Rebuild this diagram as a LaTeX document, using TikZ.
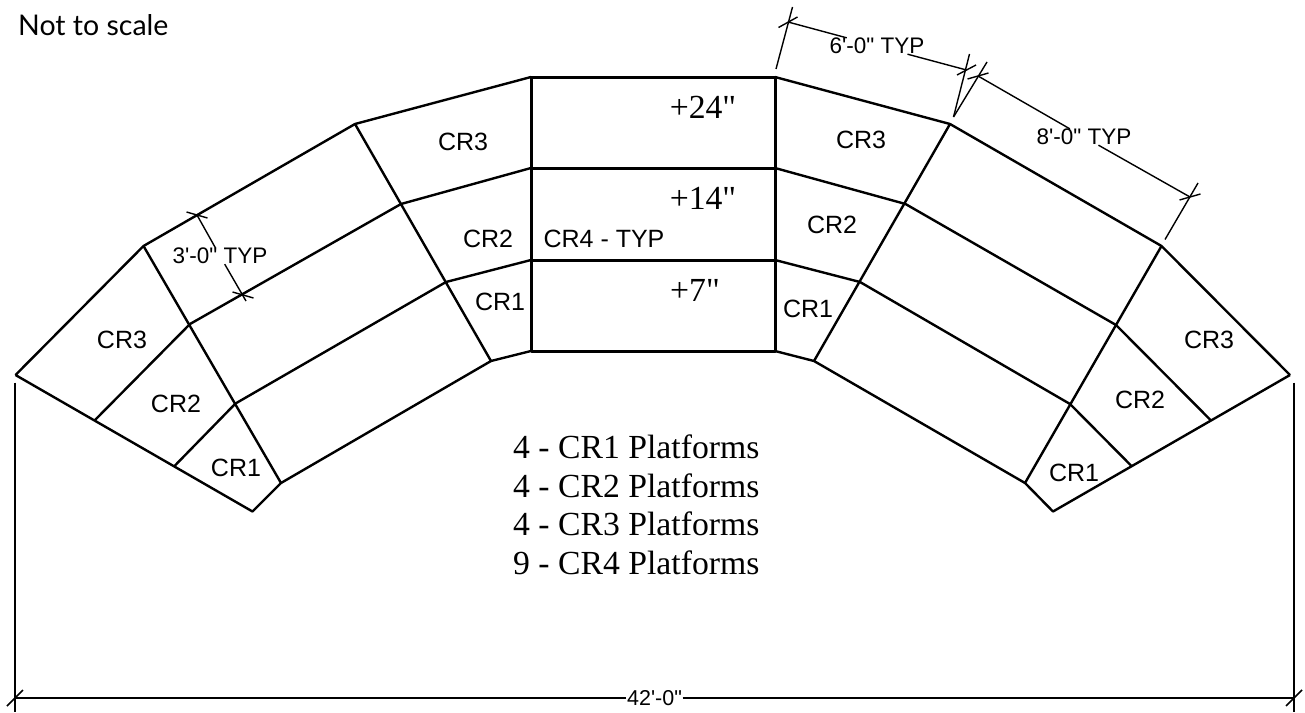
\documentclass[tikz,border=0pt]{standalone}
\usepackage{fontspec}
\newfontfamily\armfont{Liberation Sans}
\newfontfamily\timefont{Liberation Serif}
\newfontfamily\notefont{Lato}
\tikzset{
	edge/.style={line width=2.4pt},
	midedge/.style={line width=3pt},
	thin line/.style={line width=1.4pt},
	crlabel/.style={inner sep=0pt, font=\armfont\fontsize{25}{29}\selectfont},
	dimlabel/.style={inner sep=0pt, font=\armfont\fontsize{22.5}{26}\selectfont},
	height/.style={inner sep=0pt, font=\timefont\fontsize{33.7}{38}\selectfont},
}
\begin{document}
\begin{tikzpicture}[x=1pt, y=-1pt, line join=round, line cap=butt]
		\useasboundingbox (0,0) rectangle (1305,712);
		% middle block
		\coordinate (A1) at (531,77);
		\coordinate (A2) at (531,168);
		\coordinate (A3) at (531,260);
		\coordinate (A4) at (531,351);
		\coordinate (B1) at (775,77);
		\coordinate (B2) at (775,168);
		\coordinate (B3) at (775,260);
		\coordinate (B4) at (775,351);
		% left arm
		\coordinate (C1) at (355,124);
		\coordinate (C2) at (401,204);
		\coordinate (C3) at (446,282);
		\coordinate (C4) at (491,361);
		\coordinate (D1) at (143.5,246);
		\coordinate (D2) at (190,324);
		\coordinate (D3) at (235.5,403.5);
		\coordinate (D4) at (281,483);
		\coordinate (E1) at (15.5,375);
		\coordinate (E2) at (95,420);
		\coordinate (E3) at (174.5,466);
		\coordinate (E4) at (252.5,511.5);
		% right arm
		\coordinate (F1) at (950,124);
		\coordinate (F2) at (905.5,204);
		\coordinate (F3) at (860,282);
		\coordinate (F4) at (814,361);
		\coordinate (G1) at (1161.5,246);
		\coordinate (G2) at (1116,325);
		\coordinate (G3) at (1070,404);
		\coordinate (G4) at (1025,483);
		\coordinate (H1) at (1290,375);
		\coordinate (H2) at (1210.5,420);
		\coordinate (H3) at (1131.5,466);
		\coordinate (H4) at (1053,511.5);
		\draw[midedge] (A1)--(B1)--(B4)--(A4)--cycle (A2)--(B2) (A3)--(B3);
		\draw[edge] (A1)--(C1)--(D1)--(E1) (A2)--(C2)--(D2)--(E2) (A3)--(C3)--(D3)--(E3) (A4)--(C4)--(D4)--(E4)--(E1);
		\draw[edge] (C1)--(C4) (D1)--(D4);
		\draw[edge] (B1)--(F1)--(G1)--(H1) (B2)--(F2)--(G2)--(H2) (B3)--(F3)--(G3)--(H3) (B4)--(F4)--(G4)--(H4)--(H1);
		\draw[edge] (F1)--(F4) (G1)--(G4);
		% dimensions
		\node[dimlabel] (dimSix) at (877,46) {6'-0" TYP};
		\node[dimlabel] (dimEight) at (1084,137) {8'-0" TYP};
		\node[dimlabel] (dimThree) at (220,256) {3'-0" TYP};
		\node[dimlabel, font=\armfont\fontsize{21.5}{26}\selectfont, fill=white, inner xsep=0.5pt] (dimAll) at (654.5,698) {42'-0"};
		\coordinate (P1) at (788,22);
		\coordinate (P2) at (966.5,70);
		\coordinate (Q1) at (978,76);
		\coordinate (Q2) at (1190,197);
		\coordinate (R1) at (197,215);
		\coordinate (R2) at (243,295);
		\coordinate (R3) at (246,301);
		\coordinate (S1) at (15,698);
		\coordinate (S2) at (1294,698);
		\draw[thin line] (P1)--(dimSix)--(P2);
		\draw[thin line] (Q1)--(dimEight)--(Q2);
		\draw[thin line] (R1)--(dimThree)--(R3);
		\draw[thin line] (776,69)--(792.5,7);
		\draw[thin line] (953.5,117)--(969.5,54);
		\draw[thin line] (953.5,117)--(987,62);
		\draw[thin line] (1165,239.5)--(1198,183);
		\draw[line width=1.6pt] (S1)--(dimAll)--(S2);
		\draw[line width=1.6pt] (15,382.5)--(15,712) (1294,382.5)--(1294,712);
		\draw[thin line] ([shift={(-9.5,5.5)}]P1)--([shift={(9.5,-5)}]P1) ([shift={(-9.5,5)}]P2)--([shift={(9.5,-5)}]P2);
		\draw[thin line] ([shift={(-10.5,3)}]Q1)--([shift={(10.5,-3)}]Q1) ([shift={(-10.5,3)}]Q2)--([shift={(10.5,-3)}]Q2);
		\draw[thin line] ([shift={(-10.5,-3)}]R1)--([shift={(10.5,3)}]R1) ([shift={(-10.5,-3)}]R2)--([shift={(10.5,3)}]R2);
		\draw[line width=1.6pt] ([shift={(-8,8)}]S1)--([shift={(8,-8)}]S1) ([shift={(-8,8)}]S2)--([shift={(8,-8)}]S2);
		% platform names
		\node[crlabel] (crTopL) at (463,142) {CR3};
		\node[crlabel] (crMidL) at (488,239) {CR2};
		\node[crlabel] (crLowL) at (500,302) {CR1};
		\node[crlabel] (crEndTopL) at (122,339.5) {CR3};
		\node[crlabel] (crEndMidL) at (176,404) {CR2};
		\node[crlabel] (crEndLowL) at (236,468) {CR1};
		\node[crlabel] (crTopR) at (861,140) {CR3};
		\node[crlabel] (crMidR) at (832,225) {CR2};
		\node[crlabel] (crLowR) at (808,309) {CR1};
		\node[crlabel] (crEndTopR) at (1209,340) {CR3};
		\node[crlabel] (crEndMidR) at (1140,400) {CR2};
		\node[crlabel] (crEndLowR) at (1074,473) {CR1};
		\node[crlabel] (crFour) at (604,239) {CR4 - TYP};
		% heights and counts
		\node[height] (rise24) at (703,107) {+24"};
		\node[height] (rise14) at (703,198) {+14"};
		\node[height, anchor=west] (rise7) at (670,290) {+7"};
		\node[height, anchor=west] (countCRa) at (513,447) {4 - CR1 Platforms};
		\node[height, anchor=west] (countCRb) at (513,485.5) {4 - CR2 Platforms};
		\node[height, anchor=west] (countCRc) at (513,524) {4 - CR3 Platforms};
		\node[height, anchor=west] (countCRd) at (513,562.5) {9 - CR4 Platforms};
		\node[inner sep=0pt, anchor=west, font=\notefont\fontsize{28.5}{32}\selectfont] (note) at (18,25) {Not to scale};
\end{tikzpicture}
\end{document}
